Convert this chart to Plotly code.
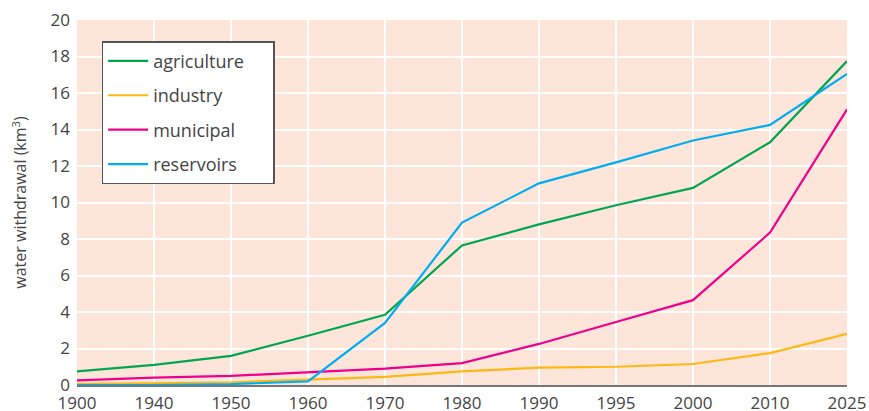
import plotly.graph_objects as go

years = ["1900", "1940", "1950", "1960", "1970", "1980", "1990", "1995", "2000", "2010", "2025"]
agriculture = [0.75, 1.1, 1.6, 2.7, 3.85, 7.65, 8.8, 9.85, 10.8, 13.3, 17.75]
industry = [0.05, 0.1, 0.15, 0.3, 0.45, 0.75, 0.95, 1.0, 1.15, 1.75, 2.8]
municipal = [0.25, 0.4, 0.5, 0.7, 0.9, 1.2, 2.25, 3.45, 4.65, 8.35, 15.1]
reservoirs = [0.0, 0.0, 0.05, 0.2, 3.4, 8.9, 11.05, 12.2, 13.4, 14.25, 17.05]

series = [
    ("agriculture", agriculture, "#00A651"),
    ("industry", industry, "#FDB913"),
    ("municipal", municipal, "#EC008C"),
    ("reservoirs", reservoirs, "#00AEEF"),
]

pad = "\u00a0" * 5

fig = go.Figure()
for name, vals, color in series:
    fig.add_trace(go.Scatter(
        x=years, y=vals, mode="lines", name=name + pad, legendgroup=name,
        line=dict(color=color, width=2.2),
    ))

font_family = "Open Sans, Noto Sans, sans-serif"
fig.update_layout(
    width=869, height=411,
    margin=dict(l=77, r=22, t=20, b=26, autoexpand=False),
    paper_bgcolor="white",
    plot_bgcolor="#FDE5DA",
    font=dict(family=font_family, size=16, color="#444444"),
    showlegend=True,
    legend=dict(
        x=0.032, y=0.942, xanchor="left", yanchor="top",
        bgcolor="white", bordercolor="#555555", borderwidth=1.5,
        font=dict(family=font_family, size=18, color="#444444"),
        tracegroupgap=8,
        itemwidth=40,
    ),
    xaxis=dict(
        type="category", range=[0, 10], automargin=False,
        showgrid=True, gridcolor="white", gridwidth=1.5,
        showline=True, linecolor="#777777", linewidth=1.5,
        ticks="", ticklabelstandoff=2,
        tickfont=dict(size=17, color="#444444"),
        zeroline=False,
    ),
    yaxis=dict(
        range=[0, 20], dtick=2, automargin=False,
        showgrid=True, gridcolor="white", gridwidth=1.5,
        showline=False, zeroline=False, ticks="", ticklabelstandoff=6,
        tickfont=dict(size=17, color="#444444"),
        title=dict(text="water withdrawal (km<sup>3</sup>)", font=dict(size=16, color="#444444"), standoff=19),
    ),
)

fig.write_html(
    "out.html",
    config={"displayModeBar": False},
    post_script="document.body.style.margin='0';document.body.style.overflow='hidden';",
)
